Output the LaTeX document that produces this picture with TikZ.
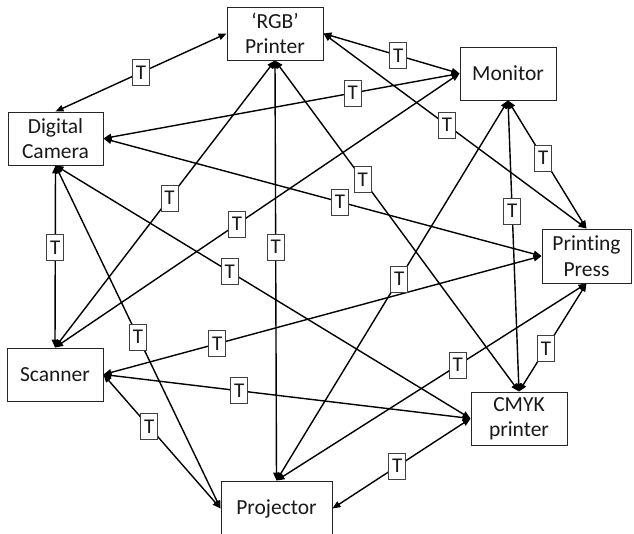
\documentclass[tikz,border=0pt]{standalone}
\usepackage{fontspec}
\setmainfont{Carlito}[Ligatures={NoCommon}]
\usetikzlibrary{arrows.meta}
\tikzset{
  box/.style={draw=black!85, line width=0.9pt, minimum height=53pt, inner sep=0pt, align=center, fill=white,
    font=\fontsize{21.5}{25.5}\selectfont, text=black!90},
  tlab/.style={draw=black!75, fill=white, line width=0.8pt, minimum width=17pt, minimum height=26pt, inner sep=0pt,
    font=\fontsize{21}{25}\selectfont, text=black!90},
  arr/.style={line width=1.4pt, {Triangle[length=8pt,width=6.5pt]}-{Triangle[length=8pt,width=6.5pt]}}
}
\begin{document}
\begin{tikzpicture}[x=1pt,y=-1pt]
\useasboundingbox (0,0) rectangle (634,533);
\node[box, minimum width=96pt] (rgb) at (275,33.5) {‘RGB’\\Printer};
\node[box, minimum width=95pt] (cam) at (55.5,138.5) {Digital\\Camera};
\node[box, minimum width=96pt] (mon) at (508,73.5) {Monitor};
\node[box, minimum width=89pt, minimum height=54pt] (pp) at (586.5,256) {Printing\\Press};
\node[box, minimum width=96pt] (scan) at (55,374.5) {Scanner};
\node[box, minimum width=111pt, minimum height=55pt] (proj) at (276.5,508.5) {Projector};
\node[box, minimum width=96pt] (cmyk) at (519,418.5) {CMYK\\printer};
\def\edgelist{rgb.west/cam.north/0.5, rgb.east/mon.west/0.55, rgb.east/pp.north/0.47,
  rgb.south/scan.north/0.48, rgb.south/proj.north/0.444, rgb.south/cmyk.north/0.36,
  mon.west/cam.east/0.30, mon.west/scan.north/0.55, mon.south/proj.north/0.47,
  mon.south/cmyk.north/0.38, mon.south/pp.north/0.45, cam.east/pp.west/0.54,
  cam.south/scan.north/0.45, cam.south/proj.west/0.5, cam.south/cmyk.west/0.42,
  scan.east/pp.west/0.26, scan.east/cmyk.west/0.37, scan.east/proj.west/0.39,
  proj.north/pp.south/0.585, proj.east/cmyk.west/0.47, cmyk.north/pp.south/0.40}
\foreach \a/\b/\p in \edgelist { \draw[arr] (\a) -- (\b); }
\foreach \a/\b/\p in \edgelist { \path (\a) -- node[tlab, pos=\p] {T} (\b); }
\end{tikzpicture}
\end{document}
